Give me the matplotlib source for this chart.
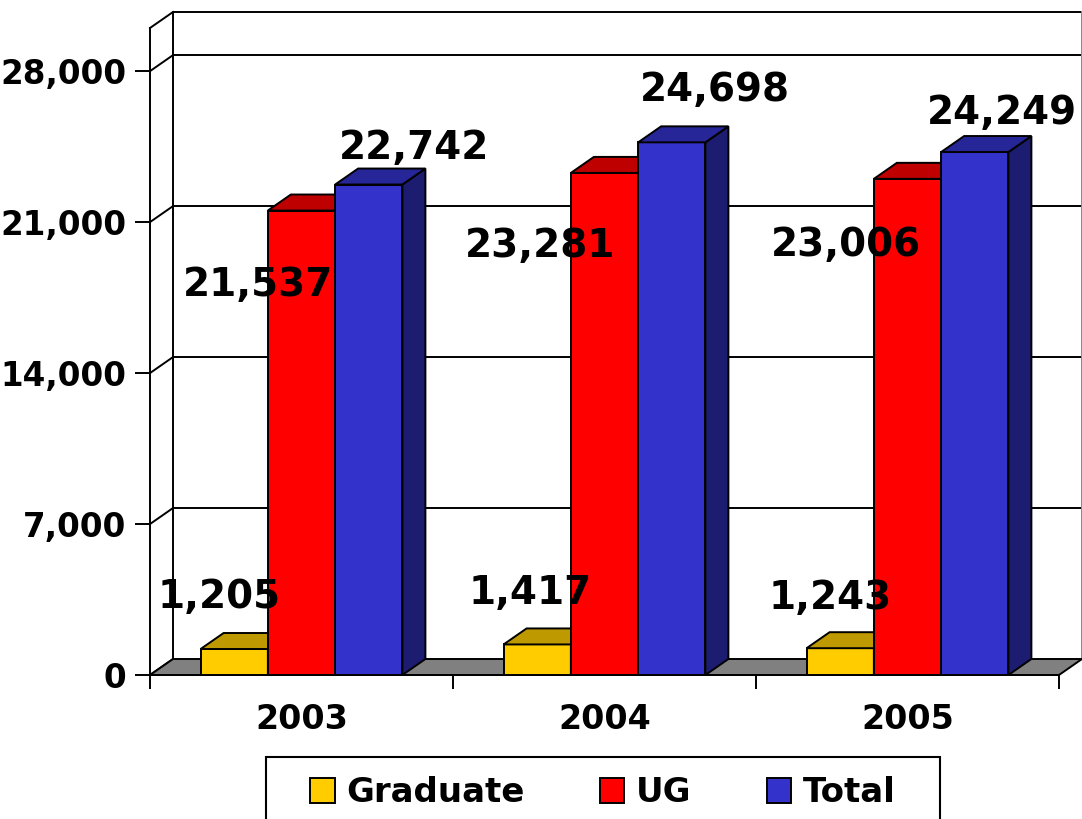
import numpy as np
import matplotlib
matplotlib.use('Agg')
import matplotlib.pyplot as plt
from matplotlib.patches import Polygon, Patch, Rectangle
from matplotlib.transforms import Affine2D
from matplotlib.colors import to_rgb

# data
years = ['2003', '2004', '2005']
graduate = [1205, 1417, 1243]
ug = [21537, 23281, 23006]
total = [22742, 24698, 24249]
series_names = ['Graduate', 'UG', 'Total']
yticks = [0, 7000, 14000, 21000, 28000]

# style
colors = ['#FFCC00', '#FF0000', '#3333CC']
# label offsets in pixels from the top centre of each bar
label_offsets = [
    [(-15, 52), (-7, 51), (-10, 50)],
    [(-43, -74), (-64, -73), (-62, -66)],
    [(45, 37), (43, 52), (27, 39)],
]

def shade(c, f):
    r, g, b = to_rgb(c)
    return (r * f, g * f, b * f)

plt.rcParams['font.family'] = 'DejaVu Sans'
plt.rcParams['font.weight'] = 'bold'

W, H = 1082, 819
fig = plt.figure(figsize=(W / 100, H / 100), dpi=100)
ax = fig.add_axes([150 / W, 144 / H, 909 / W, 647 / H])
ymax = 30000
ax.set_xlim(-0.5, 2.5)
ax.set_ylim(0, ymax)

# depth of the fake 3d, pixels and data units
DX, DY = 23, 16
back = ax.transData + Affine2D().translate(DX, DY)
ddx = DX / (909 / 3.0)
ddy = DY / (647 / ymax)

lw = 1.4
# back wall grid and edges
for v in yticks[1:] + [ymax]:
    ax.plot([-0.5, 2.5], [v, v], color='black', lw=lw, transform=back,
            clip_on=False, zorder=1)
for v in yticks + [ymax]:
    ax.plot([-0.5, -0.5 + ddx], [v, v + ddy], color='black', lw=lw,
            clip_on=False, zorder=1)
ax.plot([-0.5, -0.5], [0, ymax], color='black', lw=lw, transform=back,
        clip_on=False, zorder=1)
ax.plot([2.5, 2.5], [0, ymax], color='#888888', lw=lw, transform=back,
        clip_on=False, zorder=1)

# floor
floor = Polygon([(-0.5, 0), (2.5, 0), (2.5 + ddx, ddy), (-0.5 + ddx, ddy)],
                closed=True, fc='#808080', ec='black', lw=lw, clip_on=False, zorder=1.5)
ax.add_patch(floor)

# bars
x = np.arange(len(years))
width = 0.222
for i, vals in enumerate([graduate, ug, total]):
    c = colors[i]
    xs = x + (i - 1) * width
    ax.bar(xs, vals, width, color=c, edgecolor='black', lw=lw, zorder=3 + i)
    for j, (xc, v) in enumerate(zip(xs, vals)):
        x0, x1 = xc - width / 2, xc + width / 2
        top = Polygon([(x0, v), (x1, v), (x1 + ddx, v + ddy), (x0 + ddx, v + ddy)],
                      closed=True, fc=shade(c, 0.75), ec='black', lw=lw, zorder=3 + i)
        side = Polygon([(x1, 0), (x1 + ddx, ddy), (x1 + ddx, v + ddy), (x1, v)],
                       closed=True, fc=shade(c, 0.55), ec='black', lw=lw, zorder=3 + i)
        ax.add_patch(side)
        ax.add_patch(top)
        ox, oy = label_offsets[i][j]
        ax.annotate(f'{v:,}', xy=(xc, v), xytext=(ox, oy), textcoords='offset pixels',
                    ha='center', va='center', fontsize=28, fontweight='bold',
                    zorder=10)

# axes
for s in ['top', 'right']:
    ax.spines[s].set_visible(False)
for s in ['left', 'bottom']:
    ax.spines[s].set_linewidth(lw)
    ax.spines[s].set_zorder(2)

ax.set_yticks(yticks)
ax.set_yticklabels([f'{v:,}' for v in yticks])
ax.tick_params(axis='y', length=11, width=lw, pad=6, labelsize=23.5)

ax.set_xticks([-0.5, 0.5, 1.5, 2.5])
ax.set_xticklabels([])
ax.set_xticks(x, minor=True)
ax.set_xticklabels(years, minor=True)
ax.tick_params(axis='x', which='major', length=10, width=lw)
ax.tick_params(axis='x', which='minor', length=0, pad=20, labelsize=24)

# legend box (runs off the bottom like the original)
box = Rectangle((266 / W, -0.05), (940 - 266) / W, 0.05 + 1 - 757 / H,
                transform=fig.transFigure, fc='white', ec='black', lw=1.5)
fig.add_artist(box)
handles = [Patch(fc=c, ec='black', lw=lw) for c in colors]
leg = fig.legend(handles, series_names, loc='center',
                 bbox_to_anchor=(603 / W, 1 - 793 / H), ncol=3,
                 frameon=False, prop={'size': 24.5, 'weight': 'bold'},
                 handlelength=0.72, handleheight=0.72, handletextpad=0.35,
                 columnspacing=2.2, borderpad=0, borderaxespad=0)

fig.savefig('out.png', dpi=100)
